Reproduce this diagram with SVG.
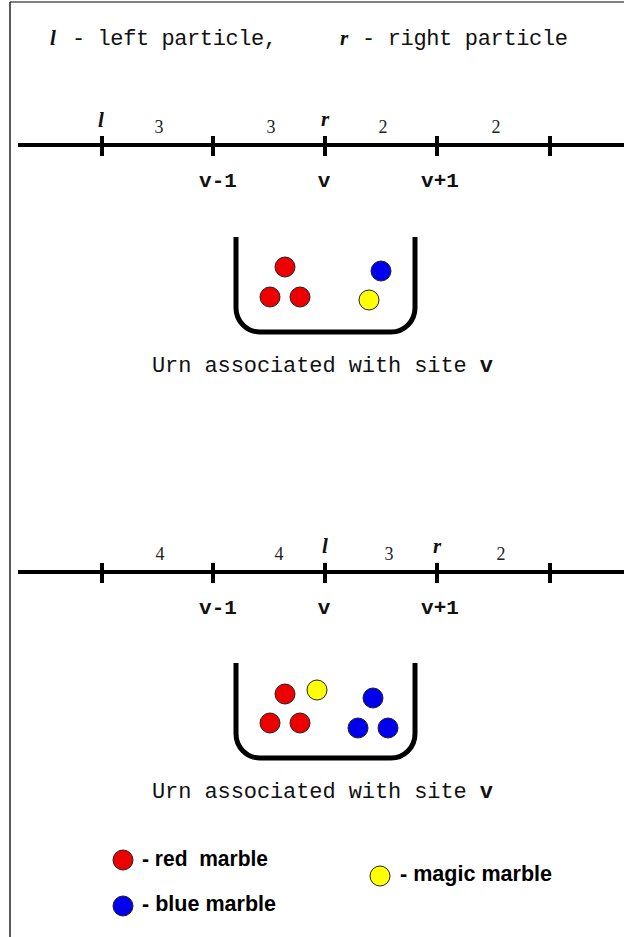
<svg xmlns="http://www.w3.org/2000/svg" width="624" height="937" viewBox="0 0 624 937">
<style>
.mono{font-family:"Liberation Mono","Courier New",monospace;font-size:22px;fill:#111}
.monob{font-family:"Liberation Mono","Courier New",monospace;font-size:21px;font-weight:bold;fill:#111;text-anchor:middle}
.num{font-family:"Liberation Serif","Times New Roman",serif;font-size:18px;fill:#222;text-anchor:middle}
.part{font-family:"Liberation Serif","Times New Roman",serif;font-size:21px;font-weight:bold;font-style:italic;fill:#111;text-anchor:middle}
.leg{font-family:"Liberation Sans",Arial,sans-serif;font-size:22px;font-weight:bold;fill:#000}
.axis{stroke:#000;stroke-width:4;fill:none}
.tick{stroke:#000;stroke-width:4}
.urn{stroke:#000;stroke-width:5;fill:none}
.m{stroke:#222;stroke-width:1}
.red{fill:#ee0000}
.blue{fill:#0000ee}
.yel{fill:#ffff00}
</style>
<rect x="0" y="0" width="624" height="937" fill="#fff"/>
<g id="frame">
<line x1="10" y1="2" x2="624" y2="2" stroke="#555" stroke-width="1.5"/>
<line x1="10" y1="2" x2="10" y2="937" stroke="#222" stroke-width="1.5"/>
</g>
<g id="header">
<text class="part" x="50" y="45" style="text-anchor:start">l</text>
<text class="mono" x="72" y="45" textLength="205" lengthAdjust="spacing">- left particle,</text>
<text class="part" x="340" y="45" style="text-anchor:start">r</text>
<text class="mono" x="362" y="45" textLength="206" lengthAdjust="spacing">- right particle</text>
</g>
<g id="lattice1">
<line class="axis" x1="18" y1="145" x2="624" y2="145"/>
<line class="tick" x1="102" y1="136" x2="102" y2="156"/>
<line class="tick" x1="213" y1="136" x2="213" y2="156"/>
<line class="tick" x1="325" y1="136" x2="325" y2="156"/>
<line class="tick" x1="437" y1="136" x2="437" y2="156"/>
<line class="tick" x1="550" y1="136" x2="550" y2="156"/>
<text class="part" x="101" y="127">l</text>
<text class="num" x="159" y="133">3</text>
<text class="num" x="271" y="133">3</text>
<text class="part" x="325" y="126">r</text>
<text class="num" x="383" y="133">2</text>
<text class="num" x="496" y="133">2</text>
<text class="monob" x="218" y="187">v-1</text>
<text class="monob" x="324" y="187">v</text>
<text class="monob" x="440" y="187">v+1</text>
</g>
<g id="urn1">
<path class="urn" d="M236,237 V308 A24,24 0 0 0 260,332 H391 A24,24 0 0 0 415,308 V237"/>
<circle class="m red" cx="285" cy="267" r="10"/>
<circle class="m red" cx="270" cy="297" r="10"/>
<circle class="m red" cx="300" cy="297" r="10"/>
<circle class="m blue" cx="381" cy="271" r="10"/>
<circle class="m yel" cx="369" cy="300" r="10"/>
<text class="mono" x="152" y="372" textLength="341" lengthAdjust="spacing">Urn associated with site <tspan font-weight="bold">v</tspan></text>
</g>
<g id="lattice2">
<line class="axis" x1="18" y1="572" x2="624" y2="572"/>
<line class="tick" x1="102" y1="563" x2="102" y2="583"/>
<line class="tick" x1="213" y1="563" x2="213" y2="583"/>
<line class="tick" x1="325" y1="563" x2="325" y2="583"/>
<line class="tick" x1="437" y1="563" x2="437" y2="583"/>
<line class="tick" x1="550" y1="563" x2="550" y2="583"/>
<text class="num" x="160" y="560">4</text>
<text class="num" x="279" y="560">4</text>
<text class="part" x="325" y="553">l</text>
<text class="num" x="389" y="560">3</text>
<text class="part" x="437" y="553">r</text>
<text class="num" x="501" y="560">2</text>
<text class="monob" x="218" y="614">v-1</text>
<text class="monob" x="324" y="614">v</text>
<text class="monob" x="440" y="614">v+1</text>
</g>
<g id="urn2">
<path class="urn" d="M236,663 V734 A24,24 0 0 0 260,758 H391 A24,24 0 0 0 415,734 V663"/>
<circle class="m red" cx="285" cy="694" r="10"/>
<circle class="m red" cx="270" cy="723" r="10"/>
<circle class="m red" cx="300" cy="723" r="10"/>
<circle class="m yel" cx="317" cy="690" r="10"/>
<circle class="m blue" cx="373" cy="698" r="10"/>
<circle class="m blue" cx="358" cy="728" r="10"/>
<circle class="m blue" cx="388" cy="728" r="10"/>
<text class="mono" x="152" y="798" textLength="341" lengthAdjust="spacing">Urn associated with site <tspan font-weight="bold">v</tspan></text>
</g>
<g id="legend">
<circle class="m red" cx="123" cy="860" r="10"/>
<text class="leg" x="142" y="866" textLength="126" lengthAdjust="spacingAndGlyphs" xml:space="preserve">- red  marble</text>
<circle class="m blue" cx="123" cy="906" r="10"/>
<text class="leg" x="142" y="911" textLength="134" lengthAdjust="spacingAndGlyphs">- blue marble</text>
<circle class="m yel" cx="380" cy="876" r="10"/>
<text class="leg" x="400" y="881" textLength="152" lengthAdjust="spacingAndGlyphs">- magic marble</text>
</g>
</svg>
